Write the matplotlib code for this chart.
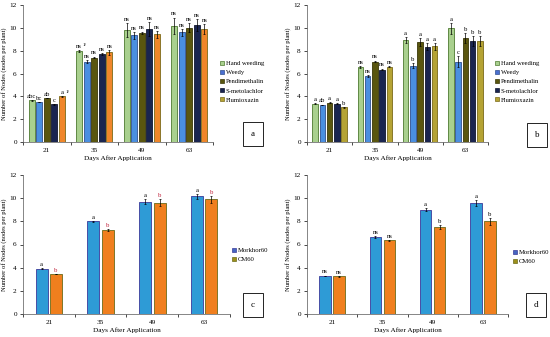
import numpy as np
import matplotlib.pyplot as plt
from matplotlib.patches import Patch

plt.rcParams['font.family'] = ['Liberation Serif', 'DejaVu Serif']

DAYS = ["21", "35", "49", "63"]
HERB = ["Hand weeding", "Weedy", "Pendimethalin", "S-metolachlor", "Flumioxazin"]
VARIETY = ["Morkhor60", "CM60"]

# panel a: values per treatment, across days
a_vals = [[3.65, 7.95, 9.8, 10.2],
          [3.5, 7.05, 9.35, 9.6],
          [3.85, 7.4, 9.55, 10.0],
          [3.3, 7.7, 9.9, 10.25],
          [4.0, 7.85, 9.45, 9.9]]
a_err = [[0.03, 0.08, 0.6, 0.7],
         [0.03, 0.15, 0.3, 0.3],
         [0.03, 0.08, 0.12, 0.4],
         [0.03, 0.08, 0.6, 0.5],
         [0.03, 0.2, 0.3, 0.4]]
a_lab = [["abc", "ns", "ns", "ns"],
         ["bc", "ns", "ns", "ns"],
         ["ab", "ns", "ns", "ns"],
         ["c", "ns", "ns", "ns"],
         ["a", "ns", "ns", "ns"]]

b_vals = [[3.35, 6.6, 8.95, 9.95],
          [3.25, 5.75, 6.7, 7.05],
          [3.45, 7.05, 8.75, 9.1],
          [3.35, 6.35, 8.35, 8.85],
          [3.05, 6.6, 8.4, 8.85]]
b_err = [[0.03, 0.08, 0.25, 0.45],
         [0.03, 0.08, 0.2, 0.5],
         [0.03, 0.08, 0.35, 0.45],
         [0.03, 0.08, 0.3, 0.4],
         [0.03, 0.03, 0.3, 0.4]]
b_lab = [["a", "ns", "a", "a"],
         ["ab", "ns", "b", "c"],
         ["a", "ns", "a", "b"],
         ["a", "ns", "a", "b"],
         ["b", "ns", "a", "b"]]

c_vals = [[3.9, 8.0, 9.7, 10.15],
          [3.45, 7.25, 9.6, 9.9]]
c_err = [[0.03, 0.05, 0.2, 0.2],
         [0.03, 0.05, 0.3, 0.3]]
c_lab = [["a", "a", "a", "a"],
         ["b", "b", "b", "b"]]

d_vals = [[3.3, 6.65, 9.0, 9.55],
          [3.25, 6.35, 7.5, 8.0]]
d_err = [[0.02, 0.05, 0.15, 0.25],
         [0.02, 0.05, 0.2, 0.3]]
d_lab = [["ns", "ns", "a", "a"],
         ["ns", "ns", "b", "b"]]

herb_fc_a = ["#a9d08e", "#4a8fe0", "#5a560f", "#1a2550", "#f0862a"]
herb_fc_b = ["#a9d08e", "#4a8fe0", "#5a560f", "#1a2550", "#b5a334"]
herb_leg = ["#a9d08e", "#4a6fd0", "#5a560f", "#1a2550", "#b5a334"]
herb_ec = ["#4e7a30", "#2f4f8f", "#3a3808", "#10162f", "#7a6a18"]
var_fc = ["#2e9bd6", "#f07f1e"]
var_ec = ["#3a3a9a", "#6b6b1a"]
var_leg = ["#4466c0", "#9c8f1a"]

fig = plt.figure(figsize=(5.5, 3.37), dpi=100)
W, H = 550.0, 337.0


def px_axes(x0, y_top, x1, y_bot):
    return fig.add_axes([x0 / W, 1 - y_bot / H, (x1 - x0) / W, (y_bot - y_top) / H])


def panel(ax, vals, errs, labs, fcs, ecs, width, step, lab_color="black"):
    x = np.arange(len(DAYS))
    n = len(vals)
    for i in range(n):
        pos = x + (i - (n - 1) / 2) * step
        ax.bar(pos, vals[i], width, color=fcs[i], edgecolor=ecs[i], linewidth=0.6,
               yerr=errs[i], error_kw=dict(elinewidth=0.5, capsize=1, capthick=0.5, ecolor="black"))
        for j in range(len(x)):
            col = lab_color[i] if isinstance(lab_color, list) else lab_color
            ax.text(pos[j], vals[i][j] + errs[i][j] + 0.1, labs[i][j], ha="center", va="bottom",
                    fontsize=4.8, color=col)
    ax.set_ylim(0, 12)
    ax.set_xlim(-0.5, len(DAYS) - 0.5)
    ax.set_yticks(range(0, 13, 2))
    ax.set_xticks(x)
    ax.set_xticklabels(DAYS)
    ax.set_xticks(np.arange(-0.5, len(DAYS), 1), minor=True)
    ax.tick_params(axis="x", which="major", length=0, labelsize=5.2, pad=4)
    ax.tick_params(axis="x", which="minor", length=2, width=0.5)
    ax.tick_params(axis="y", labelsize=5.2, length=2, width=0.5, pad=2.5)
    for s in ["top", "right"]:
        ax.spines[s].set_visible(False)
    for s in ["left", "bottom"]:
        ax.spines[s].set_linewidth(0.5)
        ax.spines[s].set_color("#555555")
    ax.set_ylabel("Number of Nodes (nodes per plant)", fontsize=4.7, labelpad=1.5)
    ax.set_xlabel("Days After Application", fontsize=5.2, labelpad=2)
    return x


def legend(ax, names, colors, edges, anchor):
    handles = [Patch(facecolor=c, edgecolor=e, linewidth=0.5) for c, e in zip(colors, edges)]
    ax.legend(handles, names, loc="upper left", bbox_to_anchor=anchor, bbox_transform=fig.transFigure,
              frameon=False, fontsize=4.8, handlelength=0.6, handleheight=0.6, handletextpad=0.3,
              labelspacing=0.55, borderaxespad=0)


def letter(x, y, s):
    fig.text(x / W, 1 - y / H, s, fontsize=6.5, ha="center", va="center",
             bbox=dict(boxstyle="square,pad=0.85", facecolor="white", edgecolor="black", linewidth=0.6))


# panel a
ax_a = px_axes(23, 5, 213, 142)
xa = panel(ax_a, a_vals, a_err, a_lab, herb_fc_a, herb_ec, 0.125, 0.16)
ax_a.text(xa[0] + 2 * 0.16 + 0.07, a_vals[4][0] + 0.2, "1/", fontsize=3.8, va="bottom")
ax_a.text(xa[1] - 2 * 0.16 + 0.08, a_vals[0][1] + a_err[0][1] + 0.25, "1/", fontsize=3.8, va="bottom")
legend(ax_a, HERB, herb_leg, herb_ec, (217 / W, 1 - 58 / H))
letter(253, 134, "a")

# panel b
ax_b = px_axes(307, 5, 488, 142)
panel(ax_b, b_vals, b_err, b_lab, herb_fc_b, herb_ec, 0.125, 0.16)
legend(ax_b, HERB, herb_leg, herb_ec, (492 / W, 1 - 58 / H))
letter(537, 135, "b")

# panel c
ax_c = px_axes(23, 175, 230, 314)
panel(ax_c, c_vals, c_err, c_lab, var_fc, var_ec, 0.23, 0.28, lab_color=["black", "#c0203a"])
legend(ax_c, VARIETY, var_leg, var_ec, (229 / W, 1 - 245 / H))
letter(253, 305, "c")

# panel d
ax_d = px_axes(307, 175, 508, 314)
panel(ax_d, d_vals, d_err, d_lab, var_fc, var_ec, 0.23, 0.28)
legend(ax_d, VARIETY, var_leg, var_ec, (510 / W, 1 - 247 / H))
letter(536, 305, "d")

fig.savefig("out.png", dpi=100)
